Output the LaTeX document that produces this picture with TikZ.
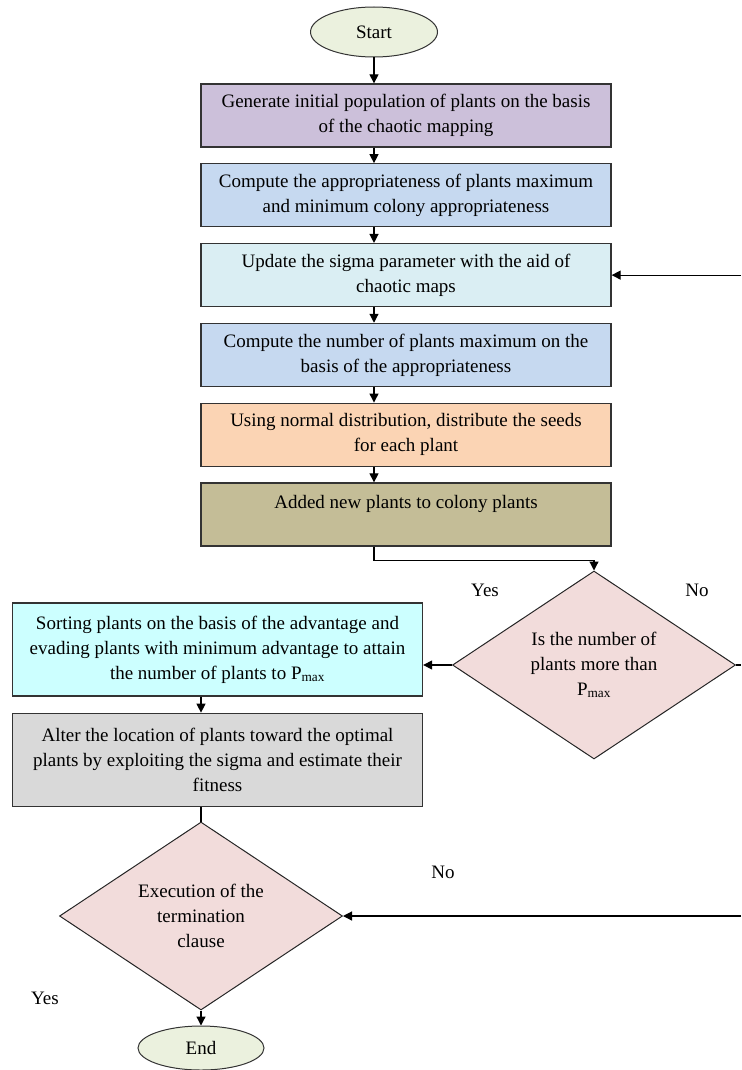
\documentclass[tikz,border=0pt]{standalone}
\usepackage{fontspec}
\setmainfont{Liberation Serif}
\usepackage{xcolor}
\usepackage{tikz}
\usetikzlibrary{arrows.meta,positioning,shapes.geometric}

\definecolor{termgreen}{HTML}{EBF1DE}
\definecolor{genpurple}{HTML}{CCC0DA}
\definecolor{compblue}{HTML}{C6D9F0}
\definecolor{sigmacyan}{HTML}{DAEEF3}
\definecolor{seedorange}{HTML}{FBD4B4}
\definecolor{addtan}{HTML}{C4BD97}
\definecolor{decpink}{HTML}{F2DCDB}
\definecolor{sortcyan}{HTML}{CCFFFF}
\definecolor{altergray}{HTML}{D9D9D9}

\begin{document}
\begin{tikzpicture}[x=1pt, y=-1pt,
    font=\fontsize{19}{25}\selectfont,
    box/.style={draw=black!80, line width=1.3pt, align=center, minimum width=410pt, minimum height=63pt},
    term/.style={ellipse, draw=black!80, line width=1pt, fill=termgreen, minimum width=127pt, minimum height=50pt},
    decide/.style={diamond, draw=black!85, line width=1pt, fill=decpink, align=center, inner sep=0pt, aspect=1.5, minimum width=283pt, minimum height=188pt},
    arr/.style={-{Triangle[length=9pt, width=9pt]}, line width=1.2pt},
    lnk/.style={line width=1.2pt}
]
\useasboundingbox (0,0) rectangle (741,1070);
\coordinate (redge) at (741,0);

\node[term] (start) at (374,32) {Start};
\node[box, fill=genpurple] (b1) at (406,115.5) {Generate initial population of plants on the basis\\of the chaotic mapping};
\node[box, fill=compblue, below=15.5pt of b1] (b2) {Compute the appropriateness of plants maximum\\and minimum colony appropriateness};
\node[box, fill=sigmacyan, below=15.5pt of b2] (b3) {Update the sigma parameter with the aid of\\chaotic maps};
\node[box, fill=compblue, below=15.5pt of b3] (b4) {Compute the number of plants maximum on the\\basis of the appropriateness};
\node[box, fill=seedorange, below=15.5pt of b4] (b5) {Using normal distribution, distribute the seeds\\for each plant};
\node[box, fill=addtan, below=15.5pt of b5] (b6) {Added new plants to colony plants\\~};

\node[decide] (dec1) at (594,665) {Is the number of\\plants more than\\P\textsubscript{max}};
\node[box, fill=sortcyan, minimum height=93pt] (sort) at (217.5,649.5) {Sorting plants on the basis of the advantage and\\evading plants with minimum advantage to attain\\the number of plants to P\textsubscript{max}};
\node[box, fill=altergray, minimum height=93pt, below=16pt of sort] (alter) {Alter the location of plants toward the optimal\\plants by exploiting the sigma and estimate their\\fitness};
\node[decide] (dec2) at (201,916) {Execution of the\\termination\\clause};
\node[term, minimum width=126pt, minimum height=44pt] (end) at (201,1048) {End};

\node (yes1) at (485,590) {Yes};
\node (no1) at (697,590) {No};
\node (no2) at (443,872) {No};
\node (yes2) at (45,998) {Yes};

\draw[arr] (start) -- (b1.north -| start);
\draw[arr] (b1.south -| start) -- (b2.north -| start);
\draw[arr] (b2.south -| start) -- (b3.north -| start);
\draw[arr] (b3.south -| start) -- (b4.north -| start);
\draw[arr] (b4.south -| start) -- (b5.north -| start);
\draw[arr] (b5.south -| start) -- (b6.north -| start);
\draw[arr] (b6.south -| start) -- ++(0,14) -| (dec1.north);
\draw[arr] (dec1.west) -- (dec1.west -| sort.east);
\draw[lnk] (dec1.east) -- (dec1.east -| redge);
\draw[arr] (b3.east -| redge) -- (b3.east);
\draw[arr] (sort.south -| dec2) -- (alter.north -| dec2);
\draw[lnk] (alter.south -| dec2) -- (dec2.north);
\draw[arr] (dec2.east -| redge) -- (dec2.east);
\draw[arr] (dec2) -- (end);
\end{tikzpicture}
\end{document}
